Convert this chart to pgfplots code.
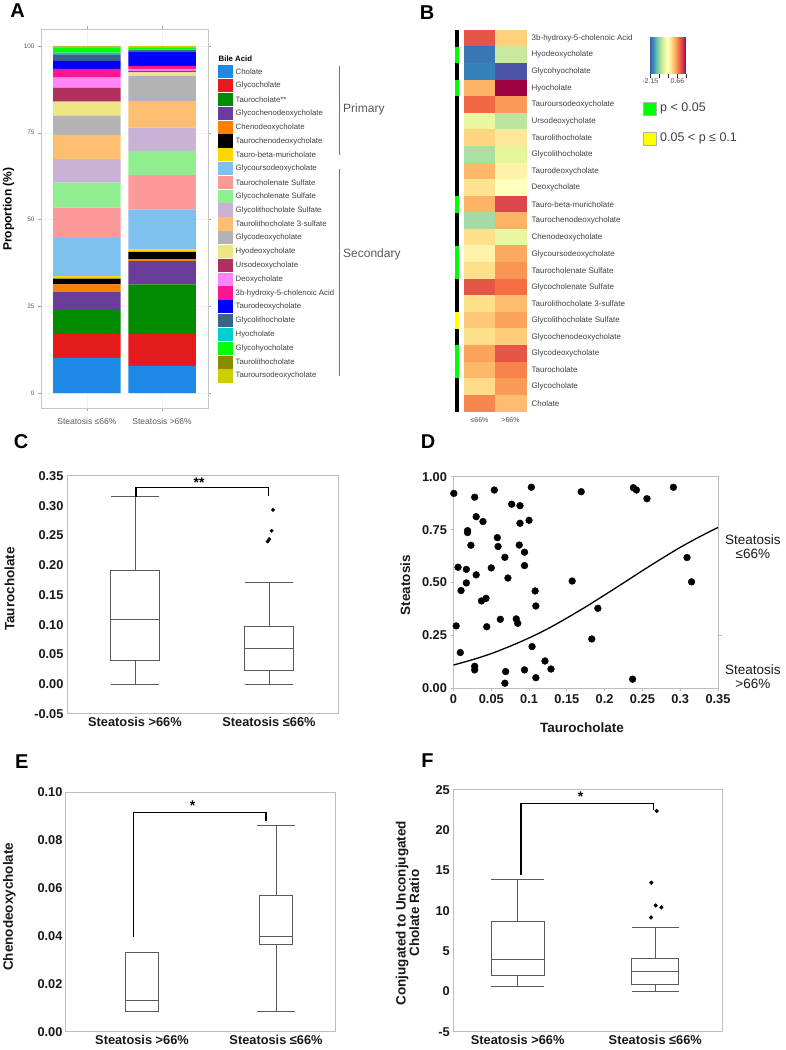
\documentclass[border=0pt]{standalone}
\usepackage{pgfplots}
\pgfplotsset{compat=1.18}
\usepgfplotslibrary{statistics}
\usepackage{fontspec}
\setmainfont{Liberation Sans}
\newcommand\fs[1]{\fontsize{#1}{#1}\selectfont}

% bile acid colours (panel A)
\definecolor{a1}{HTML}{1E88E5}\definecolor{a2}{HTML}{E41A1C}\definecolor{a3}{HTML}{008B00}
\definecolor{a4}{HTML}{6A3D9A}\definecolor{a5}{HTML}{FF7F00}\definecolor{a6}{HTML}{000000}
\definecolor{a7}{HTML}{FFD700}\definecolor{a8}{HTML}{7EC0EE}\definecolor{a9}{HTML}{FB9A99}
\definecolor{a10}{HTML}{90EE90}\definecolor{a11}{HTML}{CAB2D6}\definecolor{a12}{HTML}{FDBF6F}
\definecolor{a13}{HTML}{B3B3B3}\definecolor{a14}{HTML}{EEE685}\definecolor{a15}{HTML}{B03060}
\definecolor{a16}{HTML}{FF83FA}\definecolor{a17}{HTML}{FF1493}\definecolor{a18}{HTML}{0000FF}
\definecolor{a19}{HTML}{36648B}\definecolor{a20}{HTML}{00CED1}\definecolor{a21}{HTML}{00FF00}
\definecolor{a22}{HTML}{8B8B00}\definecolor{a23}{HTML}{CDCD00}
\definecolor{pgreen}{HTML}{00FF00}
\definecolor{pyellow}{HTML}{FFFF00}
\definecolor{boxgray}{HTML}{BDBDBD}
\definecolor{linegray}{HTML}{595959}

\pgfplotsset{
  every axis/.append style={/pgf/number format/assume math mode=true},
  boxaxis/.style={scale only axis, anchor=south west, clip=false,
    boxplot/draw direction=y,
    axis line style={draw=boxgray, line width=1pt}, major tick length=0pt,
    tick label style={font=\fs{12.8}\bfseries, text=black!90},
    label style={font=\fs{13.5}\bfseries, text=black!90},
    scaled ticks=false, enlargelimits=false,
    xtick={1,2}, xticklabels={Steatosis >66\%, Steatosis ≤66\%}},
  bx/.style={draw=linegray, line width=0.9pt, solid},
}

\begin{document}
\begin{tikzpicture}
\fill[white] (0,0) rectangle (785pt,1050pt);
\path[use as bounding box] (0,0) rectangle (785pt,1050pt);

% ---------------- A: stacked composition ----------------
\begin{axis}[scale only axis, anchor=south west, at={(41pt,641.7pt)},
  width=167pt, height=379.3pt,
  xmin=0.39, xmax=2.61, ymin=-4.4, ymax=104.9, enlargelimits=false,
  ybar stacked, bar width=0.9,
  axis line style={draw=gray!45, line width=0.8pt},
  xtick={1,2}, xticklabels={Steatosis ≤66\%, Steatosis >66\%},
  ytick={0,25,50,75,100}, yticklabels={0,25,50,75,100},
  tick align=outside, major tick length=3pt, tick style={gray!70},
  tick label style={font=\fs{6.4}, text=black!65},
  xticklabel style={font=\fs{8.5}, yshift=-4pt},
  grid=major, grid style={gray!10},
  ylabel={Proportion (\%)},
  ylabel style={font=\fs{12}\bfseries, at={(axis description cs:-0.195,0.525)}, anchor=center},
]
\addplot[fill=a1, draw=none] coordinates {(1,10.1) (2,7.8)};
\addplot[fill=a2, draw=none] coordinates {(1,6.9) (2,9.2)};
\addplot[fill=a3, draw=none] coordinates {(1,6.9) (2,14.3)};
\addplot[fill=a4, draw=none] coordinates {(1,5.3) (2,6.7)};
\addplot[fill=a5, draw=none] coordinates {(1,2.1) (2,0.5)};
\addplot[fill=a6, draw=none] coordinates {(1,1.7) (2,2.2)};
\addplot[fill=a7, draw=none] coordinates {(1,0.7) (2,0.7)};
\addplot[fill=a8, draw=none] coordinates {(1,11.2) (2,11.5)};
\addplot[fill=a9, draw=none] coordinates {(1,8.5) (2,9.9)};
\addplot[fill=a10, draw=none] coordinates {(1,7.2) (2,7.0)};
\addplot[fill=a11, draw=none] coordinates {(1,6.8) (2,6.7)};
\addplot[fill=a12, draw=none] coordinates {(1,7.0) (2,7.6)};
\addplot[fill=a13, draw=none] coordinates {(1,5.5) (2,7.3)};
\addplot[fill=a14, draw=none] coordinates {(1,4.1) (2,1.0)};
\addplot[fill=a15, draw=none] coordinates {(1,4.0) (2,0.4)};
\addplot[fill=a16, draw=none] coordinates {(1,2.9) (2,0.6)};
\addplot[fill=a17, draw=none] coordinates {(1,2.5) (2,0.9)};
\addplot[fill=a18, draw=none] coordinates {(1,2.3) (2,4.1)};
\addplot[fill=a19, draw=none] coordinates {(1,1.9) (2,0.4)};
\addplot[fill=a20, draw=none] coordinates {(1,0.5) (2,0.2)};
\addplot[fill=a21, draw=none] coordinates {(1,1.5) (2,0.5)};
\addplot[fill=a22, draw=none] coordinates {(1,0.2) (2,0.1)};
\addplot[fill=a23, draw=none] coordinates {(1,0.2) (2,0.4)};
\end{axis}

% legend of A
\node[anchor=west, font=\fs{7.8}\bfseries, inner sep=0pt] at (218.5pt,991pt) {Bile Acid};
\foreach \c/\n [count=\i from 0] in {a1/Cholate, a2/Glycocholate, a3/Taurocholate**,
  a4/Glycochenodeoxycholate, a5/Chenodeoxycholate, a6/Taurochenodeoxycholate,
  a7/Tauro-beta-muricholate, a8/Glycoursodeoxycholate, a9/Taurocholenate Sulfate,
  a10/Glycocholenate Sulfate, a11/Glycolithocholate Sulfate, a12/Taurolithocholate 3-sulfate,
  a13/Glycodeoxycholate, a14/Hyodeoxycholate, a15/Ursodeoxycholate, a16/Deoxycholate,
  a17/3b-hydroxy-5-cholenoic Acid, a18/Taurodeoxycholate, a19/Glycolithocholate,
  a20/Hyocholate, a21/Glycohyocholate, a22/Taurolithocholate, a23/Tauroursodeoxycholate} {
  \fill[\c] (218pt,{1050pt-71.9pt-13.82pt*\i-6.6pt}) rectangle ++(15pt,13.2pt);
  \node[anchor=west, font=\fs{7.8}, text=black!75, inner sep=0pt] at (235.5pt,{1050pt-71.9pt-13.82pt*\i}) {\n};
}
\draw[black!55, line width=1.2pt] (339.5pt,984pt) -- (339.5pt,895pt);
\node[anchor=west, font=\fs{12}, text=black!65, inner sep=0pt] at (343pt,941pt) {Primary};
\draw[black!55, line width=1.2pt] (339.5pt,881pt) -- (339.5pt,674pt);
\node[anchor=west, font=\fs{12}, text=black!65, inner sep=0pt] at (343pt,796pt) {Secondary};

% ---------------- B: heatmap ----------------
\begin{axis}[scale only axis, anchor=south west, at={(453.15pt,638.4pt)},
  width=72.85pt, height=381.6pt,
  xmin=-0.85, xmax=1.5, ymin=0.5, ymax=23.5, y dir=reverse, enlargelimits=false,
  axis line style={draw=none}, major tick length=0pt, clip=false,
  xtick={0,1}, xticklabels={≤66\%, >66\%},
  xticklabel style={font=\fs{7}, text=black!70, anchor=north, inner sep=0pt, yshift=-6pt},
  ytick={1,...,23}, yticklabel pos=right,
  yticklabels={3b-hydroxy-5-cholenoic Acid, Hyodeoxycholate, Glycohyocholate, Hyocholate,
    Tauroursodeoxycholate, Ursodeoxycholate, Taurolithocholate, Glycolithocholate,
    Taurodeoxycholate, Deoxycholate, Tauro-beta-muricholate, Taurochenodeoxycholate,
    Chenodeoxycholate, Glycoursodeoxycholate, Taurocholenate Sulfate, Glycocholenate Sulfate,
    Taurolithocholate 3-sulfate, Glycolithocholate Sulfate, Glycochenodeoxycholate,
    Glycodeoxycholate, Taurocholate, Glycocholate, Cholate},
  yticklabel style={font=\fs{8}, text=black!75, anchor=west, inner sep=0pt, xshift=5.5pt},
  colormap={spectral}{rgb255=(84,72,160) rgb255=(50,136,189) rgb255=(102,194,165)
    rgb255=(171,221,164) rgb255=(230,245,152) rgb255=(255,255,191) rgb255=(254,224,139)
    rgb255=(253,174,97) rgb255=(244,109,67) rgb255=(213,62,79) rgb255=(158,1,66)},
  point meta min=-2.29, point meta max=1.56,
  colorbar horizontal, colorbar/width=36pt,
  colorbar style={at={(649pt,1021pt)}, anchor=north west, scale only axis,
    width=37pt, height=36pt,
    xtick={-2.15,-1.21,-0.275,0.66,1.56}, xticklabels={-2.15,,,0.66,},
    xtick pos=left, tick align=outside, major tick length=4pt,
    tick style={black!80, line width=0.6pt},
    axis line style={draw=none},
    xticklabel style={font=\fs{7}, text=black!70, inner sep=1pt}},
]
\addplot[matrix plot*, mesh/cols=2, point meta=explicit] table[meta=c] {
x y c
0 1 0.98
1 1 0.14
0 2 -2.02
1 2 -0.94
0 3 -1.94
1 3 -2.21
0 4 0.37
1 4 1.56
0 5 0.83
1 5 0.52
0 6 -0.67
1 6 -1.02
0 7 0.10
1 7 -0.06
0 8 -1.13
1 8 -0.75
0 9 0.33
1 9 -0.21
0 10 -0.02
1 10 -0.37
0 11 0.37
1 11 1.10
0 12 -1.17
1 12 0.37
0 13 0.02
1 13 -0.67
0 14 -0.21
1 14 0.44
0 15 0.02
1 15 0.56
0 16 0.98
1 16 0.79
0 17 0.02
1 17 0.29
0 18 0.21
1 18 0.48
0 19 0.02
1 19 0.17
0 20 0.48
1 20 0.98
0 21 0.33
1 21 0.67
0 22 0.06
1 22 0.52
0 23 0.64
1 23 0.29
};
% significance side bar
\addplot[black, line width=4.3pt] coordinates {(-0.72,0.5) (-0.72,23.5)};
\addplot[pgreen, line width=4.3pt, unbounded coords=jump] coordinates {
  (-0.72,1.5) (-0.72,2.5) (-0.72,nan) (-0.72,3.5) (-0.72,4.5) (-0.72,nan)
  (-0.72,10.5) (-0.72,11.5) (-0.72,nan) (-0.72,13.5) (-0.72,15.5) (-0.72,nan)
  (-0.72,19.5) (-0.72,21.5)};
\addplot[pyellow, line width=4.3pt] coordinates {(-0.72,17.5) (-0.72,18.5)};
\end{axis}
\filldraw[fill=pgreen, draw=gray!60, line width=0.4pt] (643.2pt,935.2pt) rectangle ++(13pt,13pt);
\node[anchor=west, font=\fs{12.5}, text=black!75, inner sep=0pt] at (660pt,941.5pt) {p < 0.05};
\filldraw[fill=pyellow, draw=gray!60, line width=0.4pt] (643.2pt,905pt) rectangle ++(13pt,13pt);
\node[anchor=west, font=\fs{12.5}, text=black!75, inner sep=0pt] at (660pt,911.5pt) {0.05 < p ≤ 0.1};

% ---------------- C: taurocholate box plot ----------------
\begin{axis}[boxaxis, at={(67pt,336pt)}, width=271pt, height=238pt,
  xmin=0.493, xmax=2.515, ymin=-0.05, ymax=0.35,
  ytick={-0.05,0,0.05,0.1,0.15,0.2,0.25,0.3,0.35},
  yticklabels={-0.05,0.00,0.05,0.10,0.15,0.20,0.25,0.30,0.35},
  ylabel={Taurocholate},
  ylabel style={at={(axis description cs:-0.212,0.525)}, anchor=center},
]
\addplot[bx, boxplot prepared={draw position=1, lower whisker=0, lower quartile=0.0408,
  median=0.1092, upper quartile=0.1908, upper whisker=0.3152,
  box extend=0.36, whisker extend=0.36}] coordinates {};
\addplot[bx, boxplot prepared={draw position=2, lower whisker=0, lower quartile=0.0228,
  median=0.0604, upper quartile=0.0967, upper whisker=0.1707,
  box extend=0.36, whisker extend=0.36}] coordinates {};
\addplot[only marks, mark=*, mark size=1.7pt, black] coordinates {
  (2.03,0.293) (2.02,0.258) (2.002,0.244) (1.99,0.240)};
\draw[black, line width=1.1pt] (axis cs:1.0075,0.315) |- (axis cs:1.998,0.331) -- (axis cs:1.998,0.317);
\node[font=\fs{14}\bfseries] at (axis cs:1.478,0.339) {**};
\end{axis}

% ---------------- D: logistic scatter ----------------
\begin{axis}[scale only axis, anchor=south west, at={(453.5pt,361.7pt)},
  width=264.5pt, height=211.6pt, clip=false,
  xmin=0, xmax=0.35, ymin=0, ymax=1, enlargelimits=false,
  axis line style={draw=boxgray, line width=1pt},
  tick align=outside, major tick length=3pt, tick style={boxgray, line width=0.8pt},
  xtick pos=left, ytick pos=left,
  xtick={0,0.05,0.1,0.15,0.2,0.25,0.3,0.35},
  xticklabels={0,0.05,0.1,0.15,0.2,0.25,0.3,0.35},
  ytick={0,0.25,0.5,0.75,1}, yticklabels={0.00,0.25,0.50,0.75,1.00},
  tick label style={font=\fs{12.8}\bfseries, text=black!90},
  label style={font=\fs{13.5}\bfseries, text=black!90},
  xlabel={Taurocholate}, ylabel={Steatosis},
  xlabel style={at={(axis description cs:0.486,-0.188)}, anchor=center},
  ylabel style={at={(axis description cs:-0.182,0.488)}, anchor=center},
]
\addplot[only marks, mark=*, mark size=3.4pt, black] coordinates {
(0.0004,0.921) (0.028,0.903) (0.054,0.937) (0.103,0.950) (0.169,0.929)
(0.238,0.948) (0.242,0.937) (0.256,0.896) (0.291,0.950) (0.077,0.870)
(0.088,0.863) (0.030,0.811) (0.039,0.788) (0.100,0.794) (0.088,0.780)
(0.0186,0.745) (0.0186,0.736) (0.058,0.712) (0.023,0.676) (0.059,0.670)
(0.087,0.677) (0.094,0.643) (0.068,0.619) (0.309,0.618) (0.006,0.572)
(0.050,0.569) (0.094,0.580) (0.017,0.562) (0.030,0.536) (0.072,0.521)
(0.157,0.507) (0.017,0.498) (0.315,0.503) (0.010,0.462) (0.108,0.460)
(0.109,0.389) (0.043,0.425) (0.037,0.413) (0.191,0.378) (0.062,0.326)
(0.083,0.328) (0.085,0.307) (0.0035,0.295) (0.044,0.291) (0.183,0.233)
(0.104,0.197) (0.009,0.169) (0.121,0.129) (0.028,0.104) (0.028,0.087)
(0.129,0.091) (0.094,0.087) (0.069,0.079) (0.109,0.050) (0.237,0.043)
(0.068,0.024)};
\addplot[black, line width=1.3pt, smooth] coordinates {
(0,0.110) (0.025,0.135) (0.05,0.164) (0.075,0.199) (0.1,0.238) (0.125,0.282)
(0.15,0.332) (0.175,0.385) (0.2,0.441) (0.225,0.498) (0.25,0.556) (0.275,0.612)
(0.3,0.666) (0.325,0.715) (0.35,0.760)};
\draw[boxgray, line width=0.8pt] (axis cs:0.35,0.25) -- ++(4pt,0);
\node[align=center, font=\fs{13.5}, text=black!90] at (axis description cs:1.132,0.670) {Steatosis\\≤66\%};
\node[align=center, font=\fs{13.5}, text=black!90] at (axis description cs:1.132,0.056) {Steatosis\\>66\%};
\end{axis}

% ---------------- E: chenodeoxycholate box plot ----------------
\begin{axis}[boxaxis, at={(66pt,18.3pt)}, width=269pt, height=239.4pt,
  xmin=0.433, xmax=2.44, ymin=0, ymax=0.1,
  ytick={0,0.02,0.04,0.06,0.08,0.1},
  yticklabels={0.00,0.02,0.04,0.06,0.08,0.10},
  ylabel={Chenodeoxycholate},
  ylabel style={at={(axis description cs:-0.21,0.522)}, anchor=center},
]
\addplot[bx, boxplot prepared={draw position=1, lower whisker=0.0083, lower quartile=0.0083,
  median=0.0132, upper quartile=0.033, upper whisker=0.033,
  box extend=0.243, whisker extend=0.243}] coordinates {};
\addplot[bx, boxplot prepared={draw position=2, lower whisker=0.0086, lower quartile=0.0365,
  median=0.0397, upper quartile=0.0568, upper whisker=0.0862,
  box extend=0.245, whisker extend=0.28}] coordinates {};
\draw[black, line width=1.1pt] (axis cs:0.935,0.0395) |- (axis cs:1.925,0.0916) -- (axis cs:1.925,0.088);
\node[font=\fs{14}\bfseries] at (axis cs:1.378,0.0945) {*};
\end{axis}

% ---------------- F: conjugated / unconjugated ratio ----------------
\begin{axis}[boxaxis, at={(453.3pt,18.3pt)}, width=269pt, height=241.7pt,
  xmin=0.532, xmax=2.487, ymin=-5, ymax=25,
  ytick={-5,0,5,10,15,20,25}, yticklabels={-5,0,5,10,15,20,25},
  ylabel={Conjugated to Unconjugated\\Cholate Ratio},
  ylabel style={align=center, at={(axis description cs:-0.170,0.491)}, anchor=center},
]
\addplot[bx, boxplot prepared={draw position=1, lower whisker=0.58, lower quartile=1.99,
  median=3.93, upper quartile=8.7, upper whisker=13.9,
  box extend=0.386, whisker extend=0.386}] coordinates {};
\addplot[bx, boxplot prepared={draw position=2, lower whisker=0, lower quartile=0.83,
  median=2.48, upper quartile=4.06, upper whisker=7.94,
  box extend=0.34, whisker extend=0.34}] coordinates {};
\addplot[only marks, mark=*, mark size=1.9pt, black] coordinates {
  (2.01,22.4) (1.971,13.5) (2.003,10.67) (2.044,10.43) (1.969,9.18)};
\draw[black, line width=1.1pt] (axis cs:1.024,14.5) |- (axis cs:1.99,23.3) -- (axis cs:1.99,22.5);
\node[font=\fs{14}\bfseries] at (axis cs:1.458,24.2) {*};
\end{axis}

% panel letters
\node[font=\fs{20}\bfseries] at (17.5pt,1039pt) {A};
\node[font=\fs{20}\bfseries] at (427pt,1037.5pt) {B};
\node[font=\fs{20}\bfseries] at (21pt,608.3pt) {C};
\node[font=\fs{20}\bfseries] at (428pt,608pt) {D};
\node[font=\fs{20}\bfseries] at (21.7pt,288.3pt) {E};
\node[font=\fs{20}\bfseries] at (427.5pt,289pt) {F};
\end{tikzpicture}
\end{document}
